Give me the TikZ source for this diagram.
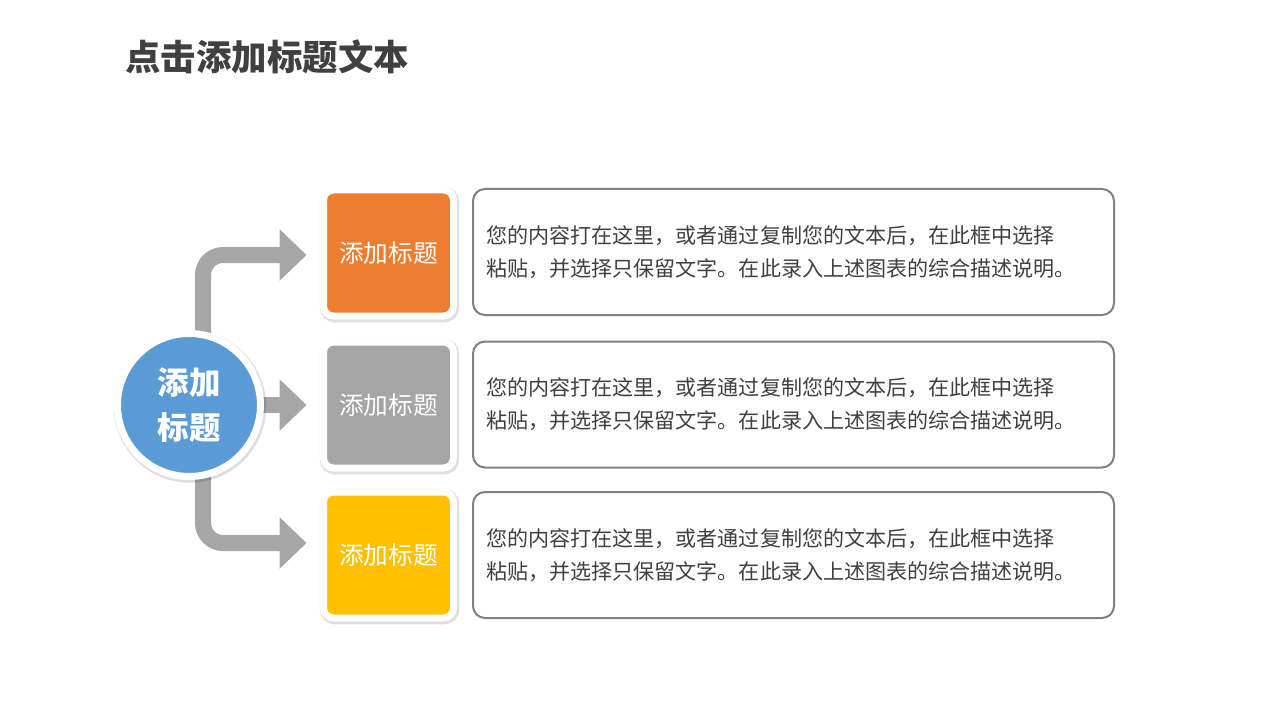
\documentclass[tikz,border=0pt]{standalone}
\usepackage{fontspec}
\setmainfont{Noto Sans CJK SC}
\usetikzlibrary{arrows.meta,shadows,backgrounds}
\definecolor{cOrange}{HTML}{ED7D31}
\definecolor{cGray}{HTML}{A5A5A5}
\definecolor{cYellow}{HTML}{FFC000}
\definecolor{cBlue}{HTML}{5B9BD5}
\definecolor{cArrow}{HTML}{A6A6A6}
\definecolor{cText}{HTML}{404040}
\definecolor{cBorder}{HTML}{808080}
\begin{document}
\begin{tikzpicture}[x=0.75pt,y=-0.75pt,
  softshadow/.style={general shadow={draw=black,fill=black,line width=7pt,opacity=0.13,shadow xshift=0.8pt,shadow yshift=-1.2pt}},
  tagbox/.style={rounded corners=7.5pt,draw=white,line width=5.25pt,minimum width=97.5pt,minimum height=94.5pt,inner sep=0pt,softshadow,text=white,font=\fontsize{18.5}{22}\selectfont},
  descbox/.style={rounded corners=9pt,draw=cBorder,line width=1.5pt,fill=white,minimum width=480.75pt,minimum height=94.5pt,inner xsep=0pt,text width=461pt,align=left,text=cText,font=\fontsize{15.8}{24.75}\selectfont},
  conn/.style={draw=cArrow,line width=12pt,rounded corners=15pt,-{Triangle[length=20.25pt,width=37.5pt]},shorten >=10.1pt}]
\useasboundingbox (0,0) rectangle (1280,720);
\node[anchor=west,text=cText,font=\bfseries\fontsize{26.6}{30}\selectfont,inner sep=0pt] (title) at (125,57) {点击添加标题文本};
\node[circle,fill=cBlue,draw=white,line width=5.25pt,minimum size=107.25pt,inner sep=0pt,softshadow,align=center,text=white,font=\bfseries\fontsize{23.6}{34}\selectfont] (c) at (189,405) {添加\\标题};
\node[tagbox,fill=cOrange] (b1) at (388.5,253) {添加标题};
\node[tagbox,fill=cGray] (b2) at (388.5,405) {添加标题};
\node[tagbox,fill=cYellow] (b3) at (388.5,555) {添加标题};
\node[descbox] (d1) at (793.5,252) {您的内容打在这里，或者通过复制您的文本后，在此框中选择\\粘贴，并选择只保留文字。在此录入上述图表的综合描述说明。};
\node[descbox] (d2) at (793.5,404.5) {您的内容打在这里，或者通过复制您的文本后，在此框中选择\\粘贴，并选择只保留文字。在此录入上述图表的综合描述说明。};
\node[descbox] (d3) at (793.5,555) {您的内容打在这里，或者通过复制您的文本后，在此框中选择\\粘贴，并选择只保留文字。在此录入上述图表的综合描述说明。};
\coordinate (s1) at (203,405);
\coordinate (s3) at (203,405);
\begin{pgfonlayer}{background}
\draw[conn] (s1) |- ([yshift=-1.5pt]b1.west);
\draw[conn] (c.center) -- (b2.west);
\draw[conn] (s3) |- ([yshift=9pt]b3.west);
\end{pgfonlayer}
\end{tikzpicture}
\end{document}
